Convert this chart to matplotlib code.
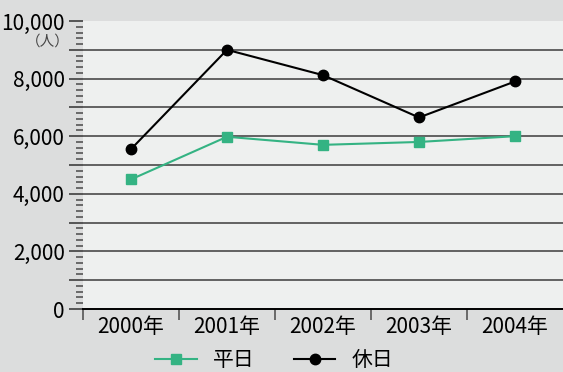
import matplotlib
matplotlib.use("Agg")
import matplotlib.pyplot as plt
from matplotlib.ticker import MultipleLocator, FuncFormatter

plt.rcParams['font.family'] = ['Noto Sans CJK JP', 'DejaVu Sans']

years = ['2000年', '2001年', '2002年', '2003年', '2004年']
weekday = [4500, 5980, 5700, 5800, 6000]
holiday = [5550, 9000, 8120, 6650, 7900]

fig = plt.figure(figsize=(5.63, 3.72), dpi=100)
fig.patch.set_facecolor('#dcdddd')
ax = fig.add_axes([83 / 563, 63 / 372, 480 / 563, 288 / 372])
ax.set_facecolor('#eef0ef')

x = list(range(len(years)))
ax.plot(x, weekday, color='#34b383', lw=1.5, marker='s', ms=7.5,
        label='平日', zorder=3)
ax.plot(x, holiday, color='black', lw=1.5, marker='o', ms=7.5,
        label='休日', zorder=3)

ax.set_xlim(-0.5, 4.5)
ax.set_ylim(0, 10000)

# horizontal grid every 1000
for v in range(1000, 10000, 1000):
    ax.axhline(v, color='#4a4a4a', lw=1.2, zorder=1)

ax.yaxis.set_major_locator(MultipleLocator(1000))
ax.yaxis.set_minor_locator(MultipleLocator(200))
ax.yaxis.set_major_formatter(
    FuncFormatter(lambda v, p: f'{int(v):,}' if v % 2000 == 0 else ''))
ax.tick_params(axis='y', which='major', length=10, width=1.4,
               color='#555555', labelsize=15, pad=3)
ax.tick_params(axis='y', which='minor', length=5, width=1.2,
               color='#555555')

ax.set_xticks(x)
ax.set_xticklabels(years)
ax.set_xticks([-0.5, 0.5, 1.5, 2.5, 3.5], minor=True)
ax.tick_params(axis='x', which='major', length=0, labelsize=15, pad=5)
ax.tick_params(axis='x', which='minor', length=8, width=1.2,
               color='#555555')

for s in ['left', 'top', 'right']:
    ax.spines[s].set_visible(False)
ax.spines['bottom'].set_color('black')
ax.spines['bottom'].set_linewidth(1.4)

fig.text(70 / 563, 1 - 42 / 372, '（人）', ha='right', va='center',
         fontsize=10.5, color='#444444')

fig.legend(loc='center', bbox_to_anchor=(274 / 563, 1 - 360 / 372), ncol=2,
           frameon=False, fontsize=15, handlelength=2.0,
           columnspacing=1.9, handletextpad=0.75)

fig.savefig('out.png', dpi=100, facecolor=fig.get_facecolor())
